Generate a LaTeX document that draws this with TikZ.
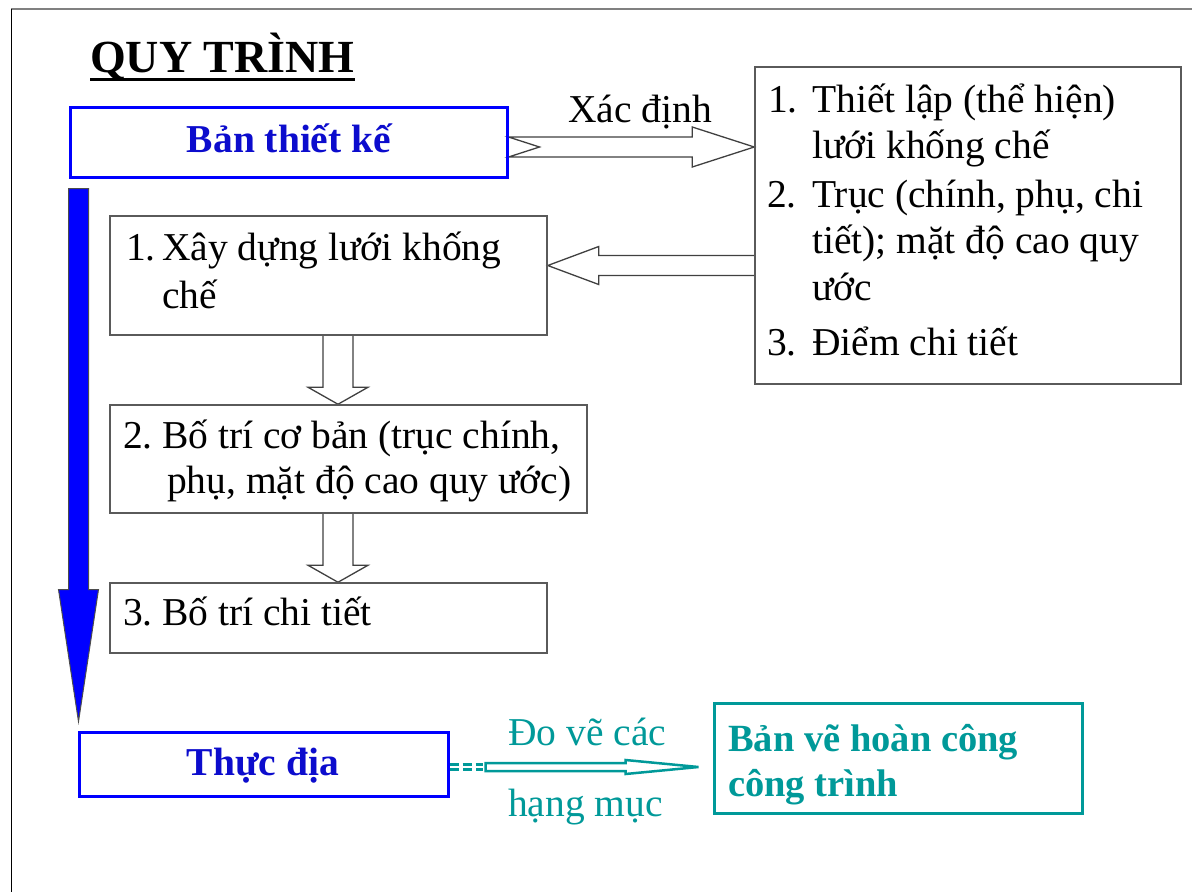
\documentclass[tikz,border=0pt]{standalone}
\usepackage{fontspec}
\setmainfont{Liberation Serif}
\usetikzlibrary{calc}
\definecolor{bblue}{RGB}{0,0,255}
\definecolor{tblue}{RGB}{12,12,205}
\definecolor{tealc}{RGB}{0,153,153}
\definecolor{lgray}{RGB}{90,90,90}
\newcommand\fsz[1]{\fontsize{#1}{#1}\selectfont}
\pgfdeclarelayer{bg}
\pgfdeclarelayer{paper}
\pgfsetlayers{paper,bg,main}
\begin{document}
\begin{tikzpicture}[x=1pt,y=-1pt,
 txt/.style={anchor=base west, inner sep=0pt, font=\fsz{39.5}},
 btxt/.style={anchor=base, inner sep=0pt, font=\fsz{39.5}\bfseries, text=tblue},
 gtxt/.style={anchor=base west, inner sep=0pt, font=\fsz{38.5}\bfseries, text=tealc},
 plainbox/.style={draw=lgray, line width=1.5pt, inner sep=0pt},
 bluebox/.style={draw=bblue, line width=3pt, inner sep=0pt},
 tealbox/.style={draw=tealc, line width=3pt, inner sep=0pt},
 hollow/.style={draw=black!75, line width=1.3pt, fill=white, line join=miter},
]
\useasboundingbox (0,0) rectangle (1192,892);
\begin{pgfonlayer}{paper}
\fill[white] (0,0) rectangle (1192,892);
\end{pgfonlayer}
% frame
\draw[gray, line width=2pt] (11,9) -- (1192,9);
\draw[black, line width=1.5pt] (11.7,9) -- (11.7,892);

% title
\node[anchor=base west, inner sep=0pt, font=\fsz{46}\bfseries] (title) at (90,72) {QUY TRÌNH};
\draw[line width=3.5pt] ([yshift=-7.5pt]title.base west) -- ([yshift=-7.5pt]title.base east);

% boxes
\node[bluebox, minimum width=437pt, minimum height=70pt] (A) at (288.5,142) {};
\node[plainbox, minimum width=426pt, minimum height=317pt] (B) at (968,225.5) {};
\node[plainbox, minimum width=437pt, minimum height=119pt] (C) at (328.5,275.5) {};
\node[plainbox, minimum width=477pt, minimum height=108pt] (D) at (348.5,459) {};
\node[plainbox, minimum width=437pt, minimum height=70pt] (E) at (328.5,618) {};
\node[bluebox, minimum width=369pt, minimum height=64pt] (F) at (263.5,764) {};
\node[tealbox, minimum width=368pt, minimum height=110pt] (G) at (898,758) {};

% texts
\node[btxt] (At) at (289,152) {Bản thiết kế};
\node[btxt] (Ft) at (263,775) {Thực địa};

\node[txt] (B1n) at (768,112) {1.};
\node[txt] (B1a) at (812,112) {Thiết lập (thể hiện)};
\node[txt] (B1b) at (812,158) {lưới khống chế};
\node[txt] (B2n) at (767,207) {2.};
\node[txt] (B2a) at (812,207) {Trục (chính, phụ, chi};
\node[txt] (B2b) at (812,253) {tiết); mặt độ cao quy};
\node[txt] (B2c) at (812,300) {ước};
\node[txt] (B3n) at (767,355) {3.};
\node[txt] (B3a) at (812,355) {Điểm chi tiết};

\node[txt] (C1n) at (126,260) {1.};
\node[txt] (C1a) at (162,260) {Xây dựng lưới khống};
\node[txt] (C1b) at (162,308) {chế};

\node[txt] (D1n) at (123,448) {2.};
\node[txt] (D1a) at (162,448) {Bố trí cơ bản (trục chính,};
\node[txt] (D1b) at (167,493) {phụ, mặt độ cao quy ước)};

\node[txt] (E1n) at (123,625) {3.};
\node[txt] (E1a) at (162,625) {Bố trí chi tiết};

\node[gtxt] (G1) at (728,751) {Bản vẽ hoàn công};
\node[gtxt] (G2) at (728,796) {công trình};

\node[txt] (lab1) at (568,122) {Xác định};
\node[txt, text=tealc] (lab2) at (508,745) {Đo vẽ các};
\node[txt, text=tealc] (lab3) at (508,816) {hạng mục};

% arrows (behind boxes)
\begin{pgfonlayer}{bg}
% A -> B notched hollow arrow
\coordinate (abT) at ([yshift=-5pt]A.east);
\coordinate (abP) at (B.west |- abT);
\draw[hollow] ($(abT)+(0,-10)$) -- ($(abP)+(-62,-10)$) -- ($(abP)+(-62,-20)$) -- (abP)
  -- ($(abP)+(-62,20)$) -- ($(abP)+(-62,10)$) -- ($(abT)+(0,10)$) -- ($(abT)+(31,0)$) -- cycle;
% B -> C
\coordinate (bcQ) at ([yshift=10pt]C.east);
\coordinate (bcT) at (B.west |- bcQ);
\draw[hollow] ($(bcT)+(0,-10)$) -- ($(bcQ)+(51,-10)$) -- ($(bcQ)+(51,-19)$) -- (bcQ)
  -- ($(bcQ)+(51,19)$) -- ($(bcQ)+(51,10)$) -- ($(bcT)+(0,10)$);
% C -> D
\coordinate (cdS) at ([xshift=9.5pt]C.south);
\coordinate (cdP) at (cdS |- D.north);
\draw[hollow] ($(cdS)+(-15,0)$) -- ($(cdP)+(-15,-17)$) -- ($(cdP)+(-30,-17)$) -- (cdP)
  -- ($(cdP)+(30,-17)$) -- ($(cdP)+(15,-17)$) -- ($(cdS)+(15,0)$);
% D -> E
\coordinate (deS) at (cdS |- D.south);
\coordinate (deP) at (cdS |- E.north);
\draw[hollow] ($(deS)+(-15,0)$) -- ($(deP)+(-15,-17)$) -- ($(deP)+(-30,-17)$) -- (deP)
  -- ($(deP)+(30,-17)$) -- ($(deP)+(15,-17)$) -- ($(deS)+(15,0)$);
% big blue arrow A -> F
\coordinate (bs) at ([shift={(10,10)}]A.south west);
\coordinate (bt) at ($(F.north -| bs)+(0,-9)$);
\draw[fill=bblue, draw=black!70, line width=1pt] ($(bs)+(-10,0)$) -- ($(bt)+(-10,-132)$) -- ($(bt)+(-20,-132)$) -- (bt)
  -- ($(bt)+(20,-132)$) -- ($(bt)+(10,-132)$) -- ($(bs)+(10,0)$) -- cycle;
% teal arrow F -> G
\coordinate (t0) at ([yshift=-3pt]F.east);
\coordinate (tt) at ($(G.west |- t0)+(-14,0)$);
\draw[tealc, line width=8pt, dash pattern=on 9pt off 4pt on 9pt off 4pt on 9pt off 60pt] (t0) -- ($(t0)+(33,0)$);
\draw[white, line width=2.2pt, dash pattern=on 9pt off 4pt on 9pt off 4pt on 9pt off 60pt] (t0) -- ($(t0)+(33,0)$);
\draw[tealc, line width=2.5pt, fill=white, line join=miter] ($(t0)+(36,-4)$) -- ($(tt)+(-73,-4)$) -- ($(tt)+(-73,-7)$) -- (tt)
  -- ($(tt)+(-73,7)$) -- ($(tt)+(-73,4)$) -- ($(t0)+(36,4)$) -- cycle;
\end{pgfonlayer}
\end{tikzpicture}
\end{document}
